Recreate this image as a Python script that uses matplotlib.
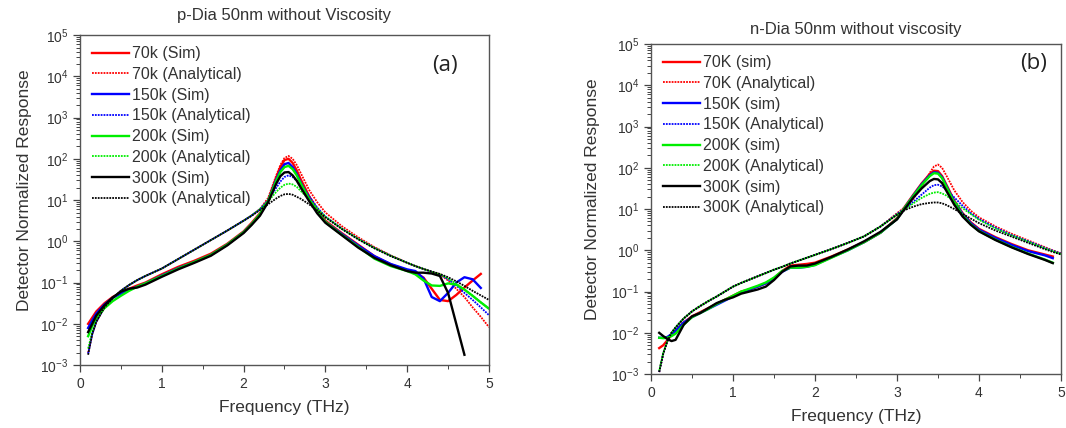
import numpy as np
import matplotlib
matplotlib.use("Agg")
import matplotlib.pyplot as plt
from matplotlib.ticker import LogLocator, MultipleLocator

# values as log10(response)
nan = np.nan

# ---- panel (a): p-Dia ----
xa = [0.1, 0.15, 0.2, 0.3, 0.4, 0.5, 0.6, 0.7, 0.8, 1.0, 1.2, 1.4, 1.6, 1.8, 2.0, 2.1, 2.2,
      2.3, 2.4, 2.45, 2.5, 2.55, 2.6, 2.65, 2.7, 2.8, 2.9, 3.0, 3.2, 3.4, 3.6, 3.8, 4.0,
      4.1, 4.2, 4.3, 4.4, 4.5, 4.6, 4.7, 4.8, 4.9, 5.0]

a_red_sim = [-2.0, -1.85, -1.7, -1.5, -1.35, -1.25, -1.15, -1.07, -1.0, -0.8, -0.62, -0.47, -0.3, -0.06, 0.24, 0.45, 0.68,
             1.0, 1.55, 1.8, 1.97, 2.0, 1.9, 1.72, 1.5, 1.1, 0.78, 0.5, 0.2, -0.08, -0.36, -0.56, -0.7,
             -0.76, -0.88, -1.15, -1.42, -1.45, -1.3, -1.12, -0.95, -0.79, nan]
a_red_an = [-2.7, -2.25, -1.95, -1.6, -1.38, -1.2, -1.06, -0.94, -0.84, -0.66, -0.43, -0.2, 0.03, 0.26, 0.5, 0.63, 0.78,
            1.05, 1.6, 1.85, 2.02, 2.07, 2.0, 1.85, 1.65, 1.25, 0.95, 0.7, 0.37, 0.1, -0.14, -0.34, -0.52,
            -0.6, -0.67, -0.74, -0.8, -0.95, -1.15, -1.35, -1.6, -1.83, -2.08]
a_blue_sim = [-2.1, -1.92, -1.75, -1.53, -1.37, -1.27, -1.17, -1.1, -1.02, -0.83, -0.65, -0.5, -0.33, -0.08, 0.22, 0.42, 0.65,
              0.98, 1.5, 1.72, 1.87, 1.9, 1.8, 1.63, 1.42, 1.05, 0.72, 0.47, 0.18, -0.1, -0.36, -0.55, -0.68,
              -0.72, -0.9, -1.35, -1.45, -1.25, -1.0, -0.87, -0.92, -1.13, nan]
a_blue_an = [-2.72, -2.25, -1.95, -1.6, -1.38, -1.2, -1.06, -0.94, -0.84, -0.66, -0.43, -0.2, 0.03, 0.26, 0.5, 0.63, 0.78,
             1.0, 1.3, 1.45, 1.56, 1.6, 1.56, 1.47, 1.35, 1.1, 0.82, 0.6, 0.31, 0.06, -0.16, -0.35, -0.52,
             -0.6, -0.67, -0.74, -0.8, -0.92, -1.07, -1.25, -1.42, -1.6, -1.79]
a_green_sim = [-2.3, -2.05, -1.85, -1.62, -1.45, -1.32, -1.2, -1.1, -1.02, -0.84, -0.66, -0.5, -0.33, -0.08, 0.22, 0.42, 0.66,
               0.98, 1.47, 1.68, 1.8, 1.83, 1.75, 1.6, 1.4, 1.03, 0.72, 0.47, 0.16, -0.13, -0.42, -0.6, -0.72,
               -0.8, -0.95, -1.07, -1.08, -1.02, -1.05, -1.17, -1.32, -1.48, -1.63]
a_green_an = [-2.6, -2.2, -1.93, -1.6, -1.38, -1.2, -1.06, -0.94, -0.84, -0.66, -0.43, -0.2, 0.03, 0.26, 0.5, 0.63, 0.78,
              0.97, 1.2, 1.3, 1.37, 1.4, 1.38, 1.32, 1.22, 1.02, 0.8, 0.6, 0.31, 0.06, -0.16, -0.35, -0.52,
              -0.6, -0.67, -0.74, -0.8, -0.9, -1.03, -1.17, -1.32, -1.48, -1.64]
a_black_sim = [-2.2, -2.0, -1.8, -1.55, -1.36, -1.22, -1.15, -1.12, -1.05, -0.86, -0.68, -0.52, -0.35, -0.1, 0.2, 0.4, 0.62,
               0.95, 1.4, 1.58, 1.67, 1.68, 1.6, 1.47, 1.3, 0.98, 0.68, 0.45, 0.15, -0.15, -0.4, -0.58, -0.72,
               -0.76, -0.76, -0.78, -0.84, -1.25, -2.0, -2.75, nan, nan, nan]
a_black_an = [-2.75, -2.25, -1.95, -1.6, -1.38, -1.2, -1.06, -0.94, -0.84, -0.66, -0.43, -0.2, 0.03, 0.26, 0.5, 0.62, 0.76,
              0.9, 1.04, 1.1, 1.14, 1.15, 1.13, 1.08, 1.03, 0.9, 0.75, 0.58, 0.3, 0.05, -0.17, -0.36, -0.52,
              -0.6, -0.67, -0.73, -0.79, -0.87, -0.97, -1.08, -1.2, -1.31, -1.42]

# ---- panel (b): n-Dia ----
xb = [0.1, 0.15, 0.2, 0.25, 0.3, 0.4, 0.5, 0.6, 0.7, 0.8, 0.9, 1.0, 1.1, 1.2, 1.3, 1.4, 1.5, 1.6, 1.7, 1.8, 1.9, 2.0,
      2.2, 2.4, 2.6, 2.8, 3.0, 3.1, 3.2, 3.3, 3.4, 3.45, 3.5, 3.55, 3.6, 3.7, 3.8, 3.9, 4.0, 4.2, 4.4, 4.6, 4.8, 4.9, 5.0]

b_red_sim = [-2.37, -2.3, -2.18, -2.05, -1.95, -1.75, -1.6, -1.5, -1.4, -1.3, -1.2, -1.1, -1.0, -0.95, -0.88, -0.8, -0.68, -0.5, -0.37, -0.35, -0.33, -0.3,
             -0.15, 0.02, 0.2, 0.43, 0.78, 1.07, 1.35, 1.62, 1.85, 1.93, 1.92, 1.8, 1.6, 1.2, 0.9, 0.68, 0.52, 0.32, 0.15, 0.0, -0.1, -0.15, nan]
b_red_an = [-2.95, -2.5, -2.2, -2.0, -1.87, -1.65, -1.48, -1.35, -1.23, -1.12, -1.0, -0.88, -0.79, -0.71, -0.63, -0.55, -0.47, -0.4, -0.32, -0.25, -0.18, -0.11,
            0.03, 0.18, 0.34, 0.58, 0.9, 1.05, 1.25, 1.55, 1.88, 2.03, 2.08, 2.0, 1.82, 1.45, 1.17, 0.96, 0.8, 0.58, 0.4, 0.24, 0.08, 0.0, -0.07]
b_blue_sim = [-2.12, -2.12, -2.1, -2.03, -1.95, -1.75, -1.62, -1.52, -1.42, -1.32, -1.22, -1.12, -1.02, -0.95, -0.88, -0.8, -0.68, -0.52, -0.42, -0.42, -0.4, -0.35,
              -0.17, 0.0, 0.2, 0.43, 0.76, 1.05, 1.33, 1.6, 1.82, 1.89, 1.88, 1.77, 1.57, 1.17, 0.88, 0.66, 0.5, 0.3, 0.13, -0.02, -0.12, -0.19, nan]
b_blue_an = [-2.95, -2.5, -2.2, -2.0, -1.87, -1.65, -1.48, -1.35, -1.23, -1.12, -1.0, -0.88, -0.79, -0.71, -0.63, -0.55, -0.47, -0.4, -0.32, -0.25, -0.18, -0.11,
             0.03, 0.18, 0.34, 0.58, 0.88, 1.02, 1.18, 1.35, 1.52, 1.58, 1.59, 1.55, 1.47, 1.28, 1.08, 0.9, 0.76, 0.55, 0.37, 0.22, 0.06, -0.01, -0.08]
b_green_sim = [-2.12, -2.13, -2.12, -2.08, -2.02, -1.8, -1.62, -1.52, -1.42, -1.3, -1.2, -1.1, -1.0, -0.93, -0.86, -0.78, -0.66, -0.5, -0.42, -0.42, -0.4, -0.36,
               -0.18, 0.0, 0.2, 0.43, 0.76, 1.05, 1.32, 1.58, 1.8, 1.87, 1.86, 1.75, 1.55, 1.15, 0.85, 0.63, 0.47, 0.26, 0.08, -0.08, -0.22, -0.3, nan]
b_green_an = [-2.92, -2.48, -2.2, -2.0, -1.87, -1.65, -1.48, -1.35, -1.23, -1.12, -1.0, -0.88, -0.79, -0.71, -0.63, -0.55, -0.47, -0.4, -0.32, -0.25, -0.18, -0.11,
              0.03, 0.18, 0.34, 0.58, 0.87, 1.0, 1.14, 1.27, 1.37, 1.4, 1.41, 1.38, 1.33, 1.18, 1.02, 0.88, 0.74, 0.53, 0.36, 0.21, 0.05, -0.02, -0.09]
b_black_sim = [-2.0, -2.08, -2.15, -2.2, -2.17, -1.8, -1.6, -1.52, -1.4, -1.28, -1.2, -1.14, -1.05, -1.0, -0.95, -0.88, -0.72, -0.52, -0.39, -0.37, -0.37, -0.32,
               -0.16, 0.02, 0.22, 0.45, 0.75, 1.02, 1.28, 1.5, 1.68, 1.73, 1.72, 1.63, 1.45, 1.1, 0.82, 0.62, 0.46, 0.25, 0.07, -0.09, -0.23, -0.31, nan]
b_black_an = [-2.95, -2.5, -2.2, -2.0, -1.87, -1.65, -1.48, -1.35, -1.23, -1.12, -1.0, -0.88, -0.79, -0.71, -0.63, -0.55, -0.47, -0.4, -0.32, -0.25, -0.18, -0.11,
              0.03, 0.18, 0.34, 0.58, 0.86, 0.98, 1.06, 1.12, 1.15, 1.16, 1.16, 1.14, 1.1, 1.0, 0.88, 0.77, 0.66, 0.48, 0.33, 0.18, 0.03, -0.04, -0.1]

temps = ['70', '150', '200', '300']
colors = ['#ff0000', '#0000ff', '#00ee00', '#000000']

plt.rcParams['font.family'] = ['Liberation Sans', 'DejaVu Sans']
tcol = '#333333'

fig = plt.figure(figsize=(10.66, 4.28), dpi=100)
ax_a = fig.add_axes([0.075, 0.147, 0.3837, 0.771])
ax_b = fig.add_axes([0.6107, 0.126, 0.3846, 0.771])

panels = [
    (ax_a, xa, [(a_red_sim, a_red_an), (a_blue_sim, a_blue_an), (a_green_sim, a_green_an), (a_black_sim, a_black_an)],
     'k', 'Sim', 'p-Dia 50nm without Viscosity', '(a)', 1.058, (0.892, 0.909), -0.118),
    (ax_b, xb, [(b_red_sim, b_red_an), (b_blue_sim, b_blue_an), (b_green_sim, b_green_an), (b_black_sim, b_black_an)],
     'K', 'sim', 'n-Dia 50nm without viscosity', '(b)', 1.045, (0.932, 0.942), -0.125),
]

for ax, x, series, unit, simname, title, tag, ty, tagpos, ylx in panels:
    x = np.array(x)
    for (sim, an), t, c in zip(series, temps, colors):
        ax.plot(x, 10 ** np.array(sim), color=c, lw=1.7, ls='-', label=f'{t}{unit} ({simname})')
        ax.plot(x, 10 ** np.array(an), color=c, lw=1.3, ls=(0, (1, 0.6)), label=f'{t}{unit} (Analytical)')
    ax.set_yscale('log')
    ax.set_xlim(0, 5)
    ax.set_ylim(1e-3, 1e5)
    ax.xaxis.set_major_locator(MultipleLocator(1))
    ax.xaxis.set_minor_locator(MultipleLocator(0.5))
    ax.yaxis.set_major_locator(LogLocator(base=10, numticks=20))
    ax.yaxis.set_minor_locator(LogLocator(base=10, subs=np.arange(2, 10), numticks=20))
    ax.tick_params(which='major', direction='out', length=5, width=0.9, colors='#444444',
                   labelcolor=tcol, labelsize=10)
    ax.tick_params(which='minor', direction='out', length=3, width=0.7, colors='#444444')
    for s in ax.spines.values():
        s.set_color('#555555')
        s.set_linewidth(1.0)
    ax.text(0.5, ty, title, transform=ax.transAxes, fontsize=12, color=tcol, ha='center', va='center')
    ax.set_xlabel('Frequency (THz)', fontsize=12.5, color=tcol)
    ax.xaxis.set_label_coords(0.5, -0.105)
    ax.set_ylabel('Detector Normalized Response', fontsize=12.5, color=tcol)
    ax.yaxis.set_label_coords(ylx, 0.53)
    ax.text(tagpos[0], tagpos[1], tag, transform=ax.transAxes, fontsize=16, ha='center', va='center',
            family=['Open Sans', 'DejaVu Sans'], color='#222222')
    ax.legend(loc='upper left', bbox_to_anchor=(-0.005, 1.01), frameon=False, fontsize=11.5,
              handlelength=2.3, handletextpad=0.2, labelspacing=0.36, borderpad=0.4,
              labelcolor=tcol)

fig.savefig('out.png', dpi=100)
